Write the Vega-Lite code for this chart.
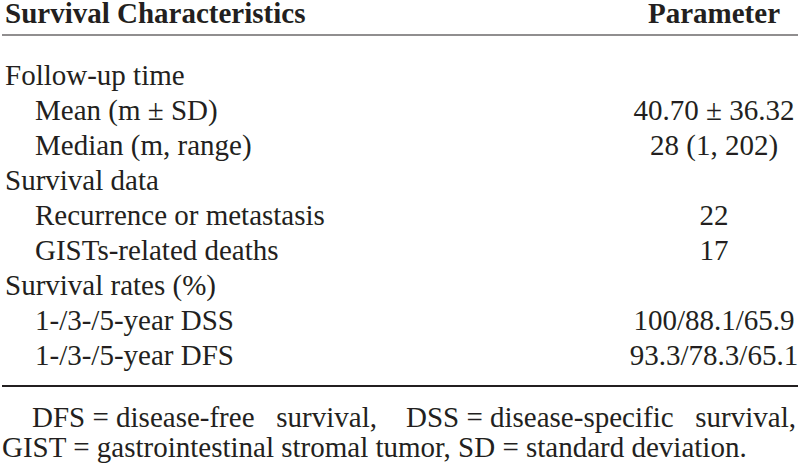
{
  "$schema": "https://vega.github.io/schema/vega-lite/v6.json",
  "width": 800,
  "height": 465,
  "autosize": {"type": "fit", "contains": "padding"},
  "padding": 0,
  "background": "white",
  "config": {
    "view": {"stroke": null},
    "text": {"font": "Liberation Serif", "fontSize": 29, "color": "#231f20", "baseline": "alphabetic"}
  },
  "datasets": {
    "header": [
      {"row": 0, "col": "label", "text": "Survival Characteristics"},
      {"row": 0, "col": "value", "text": "Parameter"}
    ],
    "body": [
      {"row": 1, "level": 0, "label": "Follow-up time", "value": ""},
      {"row": 2, "level": 1, "label": "Mean (m ± SD)", "value": "40.70 ± 36.32"},
      {"row": 3, "level": 1, "label": "Median (m, range)", "value": "28 (1, 202)"},
      {"row": 4, "level": 0, "label": "Survival data", "value": ""},
      {"row": 5, "level": 1, "label": "Recurrence or metastasis", "value": "22"},
      {"row": 6, "level": 1, "label": "GISTs-related deaths", "value": "17"},
      {"row": 7, "level": 0, "label": "Survival rates (%)", "value": ""},
      {"row": 8, "level": 1, "label": "1-/3-/5-year DSS", "value": "100/88.1/65.9"},
      {"row": 9, "level": 1, "label": "1-/3-/5-year DFS", "value": "93.3/78.3/65.1"}
    ],
    "rules": [
      {"row": 0, "kind": "top"},
      {"row": 9, "kind": "bottom"}
    ],
    "notes": [
      {"row": 10, "line": 1, "text": "DFS = disease-free\u00a0\u00a0\u00a0survival,\u00a0\u00a0\u00a0\u00a0DSS = disease-specific\u00a0\u00a0\u00a0survival,"},
      {"row": 10, "line": 2, "text": "GIST = gastrointestinal stromal tumor, SD = standard deviation."}
    ]
  },
  "encoding": {
    "y": {
      "field": "row",
      "type": "quantitative",
      "scale": {"domain": [-1.4286, 11.8571], "reverse": true, "zero": false, "nice": false},
      "axis": null
    }
  },
  "layer": [
    {
      "data": {"name": "header"},
      "transform": [{"filter": "datum.col === 'label'"}],
      "mark": {"type": "text", "fontWeight": "bold", "dy": -27, "align": "left"},
      "encoding": {
        "x": {"field": "col", "type": "nominal", "scale": {"type": "point", "domain": ["label", "value"], "range": [3, 712], "padding": 0}, "axis": null},
        "text": {"field": "text"}
      }
    },
    {
      "data": {"name": "header"},
      "transform": [{"filter": "datum.col === 'value'"}],
      "mark": {"type": "text", "fontWeight": "bold", "dy": -27, "align": "center"},
      "encoding": {
        "x": {"field": "col", "type": "nominal"},
        "text": {"field": "text"}
      }
    },
    {
      "data": {"name": "body"},
      "transform": [{"filter": "datum.level === 0"}],
      "mark": {"type": "text", "align": "left"},
      "encoding": {
        "x": {"datum": "label", "type": "nominal"},
        "text": {"field": "label"}
      }
    },
    {
      "data": {"name": "body"},
      "transform": [{"filter": "datum.level === 1"}],
      "mark": {"type": "text", "align": "left", "dx": 30},
      "encoding": {
        "x": {"datum": "label", "type": "nominal"},
        "text": {"field": "label"}
      }
    },
    {
      "data": {"name": "body"},
      "mark": {"type": "text", "align": "center"},
      "encoding": {
        "x": {"datum": "value", "type": "nominal"},
        "text": {"field": "value"}
      }
    },
    {
      "data": {"name": "rules"},
      "transform": [{"filter": "datum.kind === 'top'"}],
      "mark": {"type": "rule", "color": "#231f20", "strokeWidth": 1.2, "yOffset": -15},
      "encoding": {}
    },
    {
      "data": {"name": "rules"},
      "transform": [{"filter": "datum.kind === 'bottom'"}],
      "mark": {"type": "rule", "color": "#231f20", "strokeWidth": 2.2, "yOffset": 21},
      "encoding": {}
    },
    {
      "data": {"name": "notes"},
      "transform": [{"filter": "datum.line === 1"}],
      "mark": {"type": "text", "align": "left", "dy": 27, "dx": 27},
      "encoding": {
        "x": {"datum": "label", "type": "nominal"},
        "text": {"field": "text"}
      }
    },
    {
      "data": {"name": "notes"},
      "transform": [{"filter": "datum.line === 2"}],
      "mark": {"type": "text", "align": "left", "dy": 57, "dx": -3},
      "encoding": {
        "x": {"datum": "label", "type": "nominal"},
        "text": {"field": "text"}
      }
    }
  ]
}
